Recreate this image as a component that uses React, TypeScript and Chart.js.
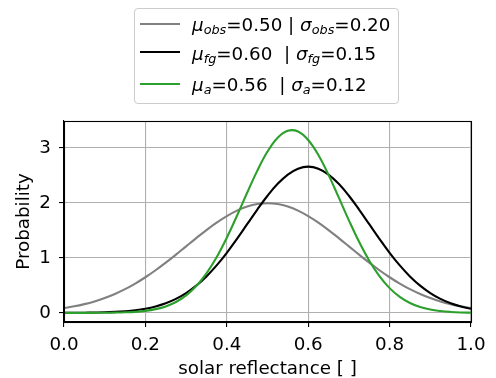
import React, { useEffect, useRef } from "react";
import { Chart, registerables } from "chart.js";

Chart.register(...registerables);

const xValues = [
  0, 0.025, 0.05, 0.075, 0.1, 0.125, 0.15, 0.175, 0.2, 0.225, 0.25, 0.275, 0.3, 0.325, 0.35, 0.375, 0.4,
  0.425, 0.45, 0.475, 0.5, 0.525, 0.55, 0.575, 0.6, 0.625, 0.65, 0.675, 0.7, 0.725, 0.75, 0.775, 0.8,
  0.825, 0.85, 0.875, 0.9, 0.925, 0.95, 0.975, 1.0,
];

const obsValues = [
  0.088, 0.119, 0.159, 0.209, 0.27, 0.344, 0.431, 0.533, 0.648, 0.775, 0.913, 1.059, 1.21, 1.36, 1.506,
  1.641, 1.76, 1.859, 1.933, 1.979, 1.995, 1.979, 1.933, 1.859, 1.76, 1.641, 1.506, 1.36, 1.21, 1.059,
  0.913, 0.775, 0.648, 0.533, 0.431, 0.344, 0.27, 0.209, 0.159, 0.119, 0.088,
];

const fgValues = [
  0.001, 0.002, 0.003, 0.006, 0.01, 0.018, 0.03, 0.048, 0.076, 0.117, 0.175, 0.254, 0.36, 0.495, 0.663,
  0.863, 1.093, 1.347, 1.613, 1.879, 2.13, 2.347, 2.516, 2.623, 2.66, 2.623, 2.516, 2.347, 2.13, 1.879,
  1.613, 1.347, 1.093, 0.863, 0.663, 0.495, 0.36, 0.254, 0.175, 0.117, 0.076,
];

const aValues = [
  0.0, 0.0, 0.0, 0.001, 0.002, 0.005, 0.01, 0.019, 0.037, 0.068, 0.118, 0.198, 0.318, 0.489, 0.719,
  1.013, 1.367, 1.766, 2.184, 2.587, 2.934, 3.186, 3.313, 3.299, 3.145, 2.871, 2.51, 2.1, 1.683, 1.292,
  0.949, 0.668, 0.45, 0.29, 0.179, 0.106, 0.06, 0.033, 0.017, 0.008, 0.004,
];

const xTickValues = [0, 0.2, 0.4, 0.6, 0.8, 1.0];
const yTickValues = [0, 1, 2, 3];

const seriesColors = ["#808080", "#000000", "#2ca02c"];

const FONT = "'DejaVu Sans', 'Liberation Sans', sans-serif";
const FS = 18.3;

const frame = {
  id: "frame",
  afterDraw(chart: any) {
    const { ctx, chartArea } = chart;
    const l = Math.round(chartArea.left) + 0.5;
    const r = Math.round(chartArea.right) + 0.5;
    const t = Math.round(chartArea.top) + 0.5;
    const b = Math.round(chartArea.bottom) + 0.5;
    ctx.save();
    ctx.strokeStyle = "#000";
    ctx.lineWidth = 1.1;
    ctx.strokeRect(l, t, r - l, b - t);
    ctx.restore();
  },
};

const subStyle = { fontSize: "0.7em", fontStyle: "italic", verticalAlign: "-0.25em", lineHeight: 0 } as const;

function LegendRow({ top, lineY, color, sub, mu, sig }: any) {
  return (
    <>
      <div
        style={{
          position: "absolute",
          left: 140,
          top: lineY - 1,
          width: 40,
          height: 2,
          background: color,
        }}
      />
      <div
        style={{
          position: "absolute",
          left: 192,
          top: top,
          height: 22,
          lineHeight: "22px",
          fontFamily: FONT,
          fontSize: FS,
          whiteSpace: "pre",
          color: "#000",
        }}
      >
        <i>μ</i>
        <sub style={subStyle}>{sub}</sub>
        {"=" + mu}
        {" | "}
        <i>σ</i>
        <sub style={subStyle}>{sub}</sub>
        {"=" + sig}
      </div>
    </>
  );
}

export default function App() {
  const canvasRef = useRef<HTMLCanvasElement | null>(null);

  useEffect(() => {
    if (!canvasRef.current) return;
    const mk = (vals: number[]) => xValues.map((x, i) => ({ x, y: vals[i] }));
    const chart = new Chart(canvasRef.current, {
      type: "line",
      data: {
        datasets: [
          { label: "obs", data: mk(obsValues), borderColor: seriesColors[0], order: 3 },
          { label: "fg", data: mk(fgValues), borderColor: seriesColors[1], order: 2 },
          { label: "a", data: mk(aValues), borderColor: seriesColors[2], order: 1 },
        ].map((d) => ({
          ...d,
          borderWidth: 2.1,
          pointRadius: 0,
          fill: false,
          tension: 0.4,
        })),
      },
      options: {
        responsive: false,
        animation: false,
        layout: { padding: { left: 0, right: 25, top: 121, bottom: 0 } },
        plugins: { legend: { display: false }, tooltip: { enabled: false } },
        scales: {
          x: {
            type: "linear",
            min: 0,
            max: 1,
            afterFit: (s: any) => {
              s.height = 56;
            },
            afterBuildTicks: (s: any) => {
              s.ticks = xTickValues.map((v) => ({ value: v }));
            },
            ticks: {
              color: "#000",
              font: { family: FONT, size: FS },
              padding: 7,
              maxRotation: 0,
              callback: (v: any) => Number(v).toFixed(1),
            },
            grid: { color: "#b0b0b0", lineWidth: 1.1, tickLength: 5, tickColor: "#000", tickWidth: 1.1 },
            border: { display: true, color: "#000", width: 1.1 },
            title: {
              display: true,
              text: "solar reflectance [ ]",
              color: "#000",
              font: { family: FONT, size: FS, lineHeight: 0.95 },
              padding: { top: 0, bottom: 0 },
            },
          },
          y: {
            type: "linear",
            min: -0.166,
            max: 3.49,
            afterFit: (s: any) => {
              s.width = 64;
            },
            afterBuildTicks: (s: any) => {
              s.ticks = yTickValues.map((v) => ({ value: v }));
            },
            ticks: {
              color: "#000",
              font: { family: FONT, size: FS },
              padding: 8,
              callback: (v: any) => String(v),
            },
            grid: { color: "#b0b0b0", lineWidth: 1.1, tickLength: 5, tickColor: "#000", tickWidth: 1.1 },
            border: { display: true, color: "#000", width: 1.1 },
            title: {
              display: true,
              text: "Probability",
              color: "#000",
              font: { family: FONT, size: FS },
              padding: { top: 13, bottom: 0 },
            },
          },
        },
      },
      plugins: [frame],
    });
    return () => chart.destroy();
  }, []);

  return (
    <div style={{ position: "absolute", left: 0, top: 0, width: 496, height: 378, background: "#fff" }}>
      <canvas ref={canvasRef} width={496} height={378} style={{ position: "absolute", left: 0, top: 0 }} />
      <div
        style={{
          position: "absolute",
          left: 134,
          top: 8,
          width: 263,
          height: 94,
          border: "1px solid #cccccc",
          borderRadius: 4,
          background: "rgba(255,255,255,0.8)",
        }}
      />
      <LegendRow top={14} lineY={24} color={seriesColors[0]} sub="obs" mu="0.50" sig="0.20" />
      <LegendRow top={43} lineY={52} color={seriesColors[1]} sub="fg" mu="0.60 " sig="0.15" />
      <LegendRow top={74} lineY={84} color={seriesColors[2]} sub="a" mu="0.56 " sig="0.12" />
    </div>
  );
}
